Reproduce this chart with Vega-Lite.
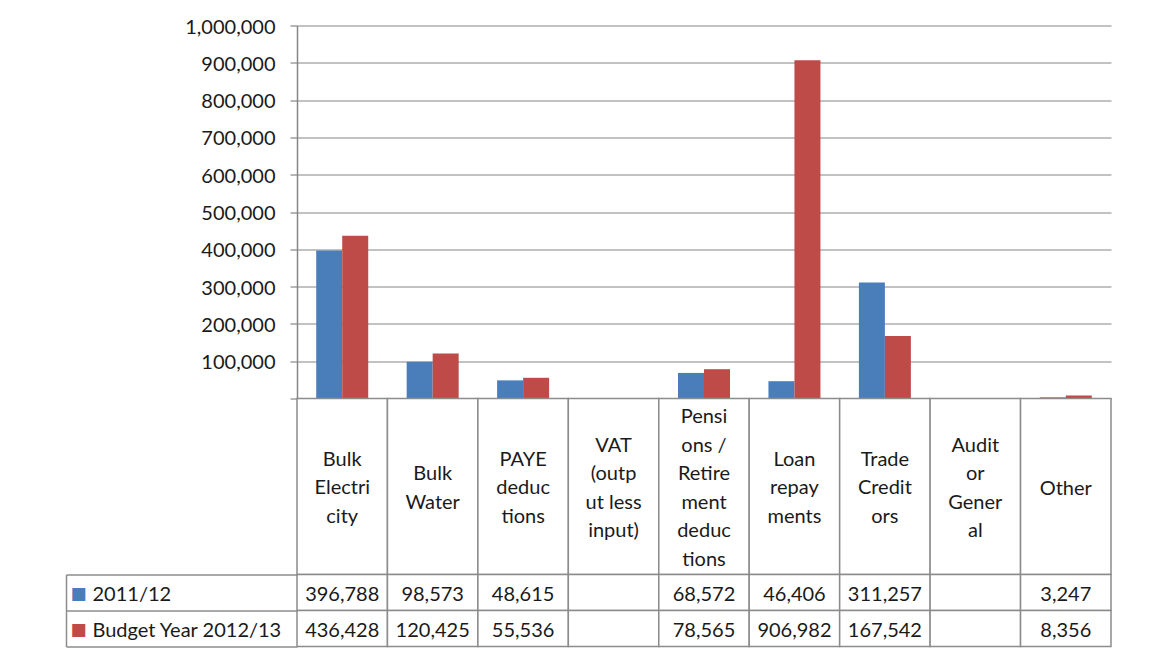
{
  "$schema": "https://vega.github.io/schema/vega-lite/v6.json",
  "background": "white",
  "padding": {"left": 65, "top": 16.5, "right": 0, "bottom": 0},
  "autosize": {"type": "pad"},
  "bounds": "flush",
  "spacing": 0,
  "config": {"view": {"stroke": null}, "font": "Lato"},
  "datasets": {
    "d": [
      {"cat": "Bulk Electricity", "label": "Bulk|Electri|city", "series": "2011/12", "value": 396788},
      {"cat": "Bulk Electricity", "label": "Bulk|Electri|city", "series": "Budget Year 2012/13", "value": 436428},
      {"cat": "Bulk Water", "label": "Bulk|Water", "series": "2011/12", "value": 98573},
      {"cat": "Bulk Water", "label": "Bulk|Water", "series": "Budget Year 2012/13", "value": 120425},
      {"cat": "PAYE deductions", "label": "PAYE|deduc|tions", "series": "2011/12", "value": 48615},
      {"cat": "PAYE deductions", "label": "PAYE|deduc|tions", "series": "Budget Year 2012/13", "value": 55536},
      {"cat": "VAT (output less input)", "label": "VAT|(outp|ut less|input)", "series": "2011/12", "value": null},
      {"cat": "VAT (output less input)", "label": "VAT|(outp|ut less|input)", "series": "Budget Year 2012/13", "value": null},
      {"cat": "Pensions / Retirement deductions", "label": "Pensi|ons /|Retire|ment|deduc|tions", "series": "2011/12", "value": 68572},
      {"cat": "Pensions / Retirement deductions", "label": "Pensi|ons /|Retire|ment|deduc|tions", "series": "Budget Year 2012/13", "value": 78565},
      {"cat": "Loan repayments", "label": "Loan|repay|ments", "series": "2011/12", "value": 46406},
      {"cat": "Loan repayments", "label": "Loan|repay|ments", "series": "Budget Year 2012/13", "value": 906982},
      {"cat": "Trade Creditors", "label": "Trade|Credit|ors", "series": "2011/12", "value": 311257},
      {"cat": "Trade Creditors", "label": "Trade|Credit|ors", "series": "Budget Year 2012/13", "value": 167542},
      {"cat": "Auditor General", "label": "Audit|or|Gener|al", "series": "2011/12", "value": null},
      {"cat": "Auditor General", "label": "Audit|or|Gener|al", "series": "Budget Year 2012/13", "value": null},
      {"cat": "Other", "label": "Other", "series": "2011/12", "value": 3247},
      {"cat": "Other", "label": "Other", "series": "Budget Year 2012/13", "value": 8356}
    ]
  },
  "vconcat": [
    {
      "width": 814,
      "height": 373,
      "data": {"name": "d"},
      "mark": {"type": "bar"},
      "encoding": {
        "x": {
          "field": "cat", "type": "nominal",
          "sort": ["Bulk Electricity", "Bulk Water", "PAYE deductions", "VAT (output less input)", "Pensions / Retirement deductions", "Loan repayments", "Trade Creditors", "Auditor General", "Other"],
          "scale": {"paddingInner": 0.425, "paddingOuter": 0.2125},
          "axis": null
        },
        "xOffset": {
          "field": "series", "type": "nominal",
          "sort": ["2011/12", "Budget Year 2012/13"],
          "scale": {"paddingInner": 0, "paddingOuter": 0}
        },
        "y": {
          "field": "value", "type": "quantitative",
          "scale": {"domain": [0, 1000000], "nice": false},
          "axis": {
            "values": [0, 100000, 200000, 300000, 400000, 500000, 600000, 700000, 800000, 900000, 1000000],
            "labelExpr": "datum.value == 0 ? '' : format(datum.value, ',')",
            "title": null,
            "grid": true, "gridColor": "#868686", "gridWidth": 1.2,
            "domain": true, "domainColor": "#868686", "domainWidth": 1.5,
            "ticks": true, "tickColor": "#868686", "tickSize": 7, "tickWidth": 1.2,
            "labelFont": "Lato", "labelFontSize": 20, "labelColor": "#1a1a1a", "labelPadding": 15, "labelOffset": 1.5
          }
        },
        "color": {
          "field": "series", "type": "nominal",
          "scale": {"domain": ["2011/12", "Budget Year 2012/13"], "range": ["#4a7ebb", "#be4b48"]},
          "legend": null
        }
      }
    },
    {
      "width": 814,
      "height": 176,
      "data": {"name": "d"},
      "transform": [{"filter": "datum.series == '2011/12'"}],
      "encoding": {
        "x": {
          "field": "cat", "type": "nominal",
          "sort": ["Bulk Electricity", "Bulk Water", "PAYE deductions", "VAT (output less input)", "Pensions / Retirement deductions", "Loan repayments", "Trade Creditors", "Auditor General", "Other"],
          "scale": {"paddingInner": 0, "paddingOuter": 0},
          "axis": null
        }
      },
      "layer": [
        {"mark": {"type": "rect", "fill": "white", "stroke": "#8c8c8c", "strokeWidth": 1.5}},
        {
          "mark": {
            "type": "text", "lineBreak": "|", "font": "Lato", "fontSize": 20, "lineHeight": 28.6,
            "color": "#1a1a1a", "baseline": "middle", "align": "center",
            "dy": {"expr": "2 - (length(split(datum.label, '|')) - 1) * 28.6 / 2"}
          },
          "encoding": {"text": {"field": "label"}}
        }
      ]
    },
    {
      "width": 814,
      "height": 72,
      "data": {"name": "d"},
      "encoding": {
        "x": {
          "field": "cat", "type": "nominal",
          "sort": ["Bulk Electricity", "Bulk Water", "PAYE deductions", "VAT (output less input)", "Pensions / Retirement deductions", "Loan repayments", "Trade Creditors", "Auditor General", "Other"],
          "scale": {"paddingInner": 0, "paddingOuter": 0},
          "axis": null
        }
      },
      "layer": [
        {
          "mark": {"type": "rect", "fill": "white", "stroke": "#8c8c8c", "strokeWidth": 1.5},
          "encoding": {
            "y": {
              "field": "series", "type": "nominal",
              "sort": ["2011/12", "Budget Year 2012/13"],
              "scale": {"paddingInner": 0, "paddingOuter": 0},
              "axis": {
                "orient": "left", "title": null,
                "tickBand": "extent", "tickSize": 231, "tickColor": "#8c8c8c", "tickWidth": 1.5,
                "domain": false,
                "labelAlign": "left", "labelPadding": -26, "labelBaseline": "middle", "labelLimit": 400, "labelOffset": 2,
                "labelFont": "Lato", "labelFontSize": 20, "labelColor": "#1a1a1a"
              }
            }
          }
        },
        {
          "transform": [{"filter": "datum.value != null"}],
          "mark": {"type": "text", "font": "Lato", "fontSize": 20, "color": "#1a1a1a", "baseline": "middle", "align": "center", "dy": 2},
          "encoding": {
            "text": {"field": "value", "type": "quantitative", "format": ","},
            "y": {
              "field": "series", "type": "nominal",
              "sort": ["2011/12", "Budget Year 2012/13"],
              "axis": {
                "orient": "left", "title": null, "offset": 231,
                "domain": true, "domainColor": "#8c8c8c", "domainWidth": 1.5,
                "ticks": false,
                "labelExpr": "'■'",
                "labelAlign": "left", "labelPadding": -4, "labelBaseline": "middle", "labelOffset": 1,
                "labelFont": "DejaVu Sans", "labelFontSize": 17,
                "labelColor": {"condition": {"test": "datum.value == '2011/12'", "value": "#4a7ebb"}, "value": "#be4b48"}
              }
            }
          }
        }
      ],
      "resolve": {"axis": {"y": "independent"}}
    }
  ]
}
